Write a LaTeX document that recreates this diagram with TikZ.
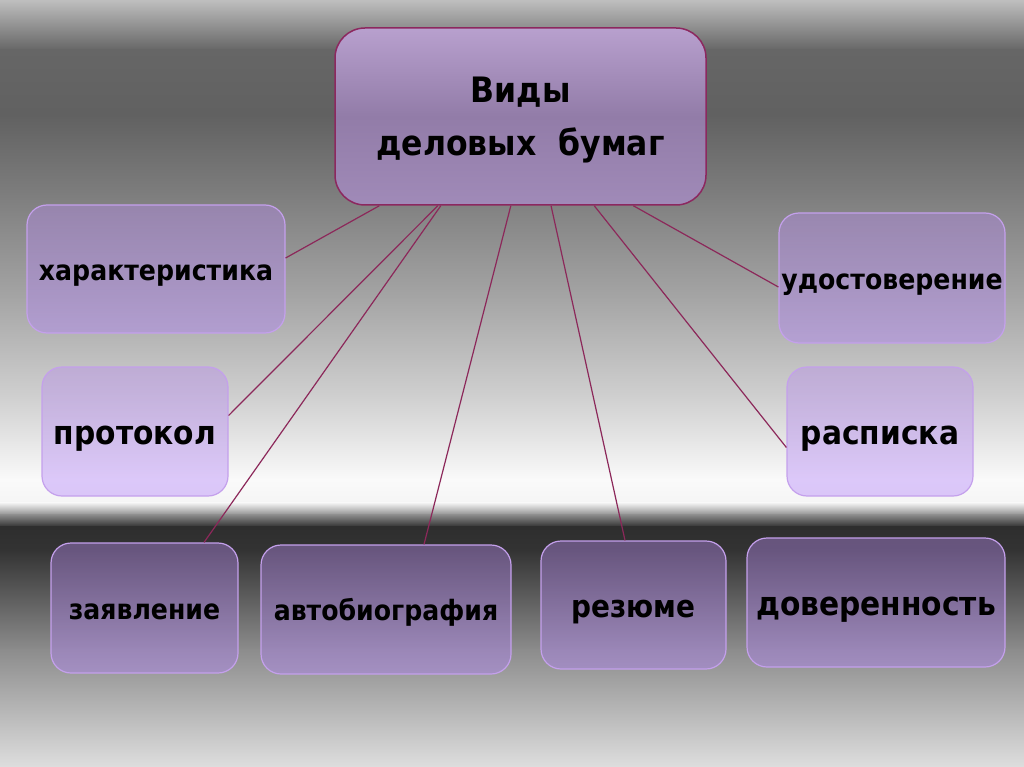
\documentclass[tikz,border=0pt]{standalone}
\usepackage{fontspec}
\setmainfont{DejaVu Sans}[FakeStretch=0.9]
\usetikzlibrary{calc}
\definecolor{boxedge}{RGB}{196,160,236}
\definecolor{mainedge}{RGB}{140,40,95}
\definecolor{linkcol}{RGB}{140,40,90}
\definecolor{boxtop}{RGB}{185,140,240}
\definecolor{boxbot}{RGB}{175,125,250}
\definecolor{maintop}{RGB}{184,160,206}
\definecolor{mainmid}{RGB}{146,124,168}
\definecolor{mainbot}{RGB}{160,138,184}

\begin{document}
\begin{tikzpicture}[
    x=1pt, y=-1pt,
    box/.style={rectangle, rounded corners=20pt, draw=boxedge, line width=1.2pt,
        top color=boxtop, bottom color=boxbot, fill opacity=0.4, draw opacity=1,
        text opacity=1, inner sep=0, text height=26.4pt, text depth=0pt,
        font=\bfseries\fontsize{33}{40}\selectfont},
    smallbox/.style={box, text height=22.4pt, font=\bfseries\fontsize{28}{34}\selectfont},
    mainbox/.style={rectangle, rounded corners=30pt, draw=mainedge, line width=1.5pt,
        top color=maintop, bottom color=mainbot, middle color=mainmid, inner sep=0,
        text depth=0pt, align=center, font=\bfseries\fontsize{35}{53}\selectfont},
    link/.style={draw=linkcol, line width=1.2pt}]

\useasboundingbox (0,0) rectangle (1024,767);

% background
\foreach \ya/\ga/\yb/\gb in {0/75/50/40, 50/40/115/38, 115/38/200/50, 200/50/300/65,
    300/65/400/82, 400/82/480/98, 480/98/503/96, 503/96/515/55, 515/55/527/18,
    527/18/550/20, 550/20/650/55, 650/55/767/87}
  \shade[top color=white!\ga!black, bottom color=white!\gb!black]
    (0,\ya-0.5) rectangle (1024,\yb+0.5);

% nodes
\node[mainbox, minimum width=371, minimum height=177] (vidy) at (520.5,116.5) {Виды\\деловых\ \ бумаг};
\node[smallbox, minimum width=258, minimum height=128] (harakt) at (156,269) {характеристика};
\node[smallbox, minimum width=226, minimum height=130] (udost) at (892,278) {удостоверение};
\node[box, minimum width=186, minimum height=129] (protokol) at (135,431.5) {протокол};
\node[box, minimum width=186, minimum height=129] (raspiska) at (880,431.5) {расписка};
\node[smallbox, minimum width=187, minimum height=130] (zayavl) at (144.5,608) {заявление};
\node[smallbox, minimum width=250, minimum height=129] (avtobio) at (386,609.5) {автобиография};
\node[box, minimum width=185, minimum height=128, text height=24.8pt,
    font=\bfseries\fontsize{31}{38}\selectfont] (rezume) at (633.5,605) {резюме};
\node[box, minimum width=258, minimum height=129] (dover) at (876,602.5) {доверенность};

% connectors
\draw[link] ($(vidy.south west)!0.121!(vidy.south east)$) -- ([yshift=11]harakt.east);
\draw[link] ($(vidy.south west)!0.278!(vidy.south east)$) -- ([yshift=16]protokol.east);
\draw[link] ($(vidy.south west)!0.286!(vidy.south east)$) -- ([xshift=59.5]zayavl.north);
\draw[link] ($(vidy.south west)!0.474!(vidy.south east)$) -- ([xshift=38]avtobio.north);
\draw[link] ($(vidy.south west)!0.582!(vidy.south east)$) -- ([xshift=-8.5]rezume.north);
\draw[link] ($(vidy.south west)!0.698!(vidy.south east)$) -- ([yshift=-16]raspiska.west);
\draw[link] ($(vidy.south west)!0.803!(vidy.south east)$) -- ([yshift=-9]udost.west);

\end{tikzpicture}
\end{document}
